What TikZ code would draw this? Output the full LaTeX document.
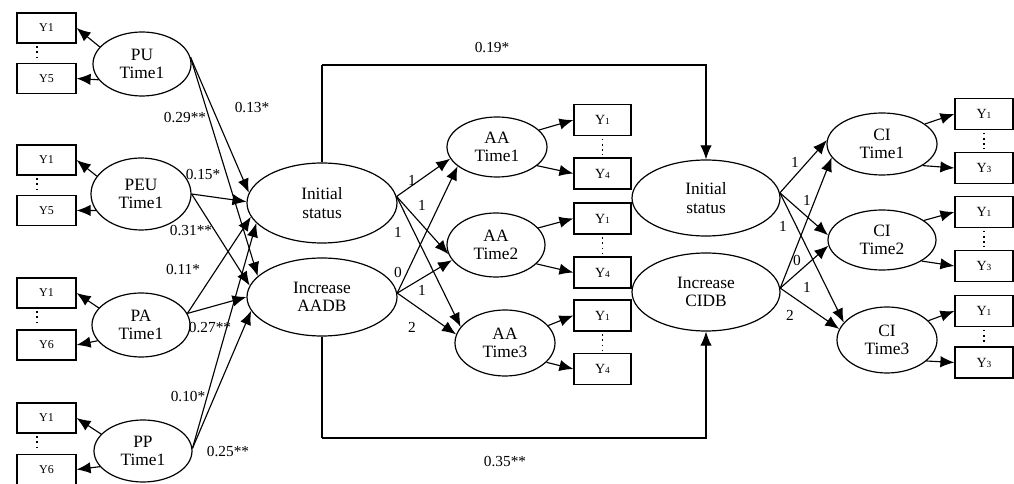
\documentclass[tikz,border=0pt]{standalone}
\usepackage{fontspec}
\setmainfont{Liberation Serif}
\usetikzlibrary{shapes.geometric,arrows.meta}
\begin{document}
\begin{tikzpicture}[x=0.75pt,y=-0.75pt,
 lat/.style={ellipse,draw,line width=0.9pt,inner sep=0pt,align=center,font=\fontsize{13}{14}\selectfont},
 obsL/.style={rectangle,draw,line width=0.9pt,minimum width=44.25pt,minimum height=22.5pt,inner sep=0pt,font=\fontsize{9}{9}\selectfont},
 obsA/.style={rectangle,draw,line width=0.9pt,minimum width=42.75pt,minimum height=23.25pt,inner sep=0pt,font=\fontsize{10.5}{10.5}\selectfont},
 obsC/.style={rectangle,draw,line width=0.9pt,minimum width=43.5pt,minimum height=23.25pt,inner sep=0pt,font=\fontsize{10.5}{10.5}\selectfont},
 arr/.style={line width=0.85pt,-{Latex[length=10.5pt,width=8.5pt]}},
 plain/.style={line width=0.85pt},
 dots/.style={line width=1.3pt,dash pattern=on 1.3pt off 2.6pt},
 coef/.style={font=\fontsize{11.5}{12}\selectfont,inner sep=0pt},
 num/.style={font=\fontsize{11.5}{12}\selectfont,inner sep=0pt},
]
\useasboundingbox (0,0) rectangle (1014,484);

% left latent variables
\node[lat,minimum width=73.5pt,minimum height=48pt] (PU) at (142,64) {PU\\Time1};
\node[lat,minimum width=75pt,minimum height=54pt] (PEU) at (141,194) {PEU\\Time1};
\node[lat,minimum width=73.5pt,minimum height=48pt] (PA) at (141,325) {PA\\Time1};
\node[lat,minimum width=73.5pt,minimum height=46.5pt] (PP) at (143,451) {PP\\Time1};

% left indicators
\node[obsL] (PU1) at (46.5,28) {Y1};
\node[obsL] (PU5) at (46.5,78.5) {Y5};
\node[obsL] (PEU1) at (46.5,160) {Y1};
\node[obsL] (PEU5) at (46.5,210.5) {Y5};
\node[obsL] (PA1) at (46.5,293) {Y1};
\node[obsL] (PA6) at (46.5,345) {Y6};
\node[obsL] (PP1) at (46.5,418) {Y1};
\node[obsL] (PP6) at (46.5,469.5) {Y6};

\foreach \a/\b in {PU1/PU5,PEU1/PEU5,PA1/PA6,PP1/PP6}
  \draw[dots] ([xshift=-7pt,yshift=-2pt]\a.south) -- ([xshift=-7pt,yshift=2pt]\b.north);

\foreach \l/\a/\b in {PU/PU1/PU5,PEU/PEU1/PEU5,PA/PA1/PA6,PP/PP1/PP6}{
  \draw[arr] (\l.158) -- (\a.east);
  \draw[arr] (\l.200) -- (\b.east);
}

% middle growth factors (AA)
\node[lat,minimum width=112.5pt,minimum height=60pt] (IS) at (322,203) {Initial\\status};
\node[lat,minimum width=112.5pt,minimum height=58.5pt] (IA) at (322,297) {Increase\\AADB};

% predictors to growth factors
\draw[arr] (PU.8) -- (IS.172);
\draw[arr] (PU.8) -- (IA.162);
\draw[arr] (PEU.east) -- (IS.179);
\draw[arr] (PEU.east) -- (IA.171);
\draw[arr] (PA.14) -- (IS.191);
\draw[arr] (PA.14) -- (IA.180);
\draw[arr] (PP.3) -- (IS.197);
\draw[arr] (PP.3) -- (IA.191);

\node[coef] at (252,108) {0.13*};
\node[coef] at (185,118) {0.29**};
\node[coef] at (203,175) {0.15*};
\node[coef] at (191,231) {0.31**};
\node[coef] at (183,270) {0.11*};
\node[coef] at (210,328) {0.27**};
\node[coef] at (188,397) {0.10*};
\node[coef] at (228,452) {0.25**};

% AA occasions
\node[lat,minimum width=75pt,minimum height=45pt] (AA1) at (497,147) {AA\\Time1};
\node[lat,minimum width=73.5pt,minimum height=48pt] (AA2) at (496,245) {AA\\Time2};
\node[lat,minimum width=75pt,minimum height=49.5pt] (AA3) at (505,343) {AA\\Time3};

\node[obsA] (A11) at (602.5,120) {Y{\scriptsize 1}};
\node[obsA] (A14) at (602.5,173.5) {Y{\scriptsize 4}};
\node[obsA] (A21) at (602.5,218.5) {Y{\scriptsize 1}};
\node[obsA] (A24) at (602.5,272.5) {Y{\scriptsize 4}};
\node[obsA] (A31) at (602.5,315.5) {Y{\scriptsize 1}};
\node[obsA] (A34) at (602.5,369) {Y{\scriptsize 4}};

\foreach \a/\b in {A11/A14,A21/A24,A31/A34}
  \draw[dots] ([yshift=-2pt]\a.south) -- ([yshift=2pt]\b.north);
\foreach \l/\a/\b in {AA1/A11/A14,AA2/A21/A24,AA3/A31/A34}{
  \draw[arr] (\l.22) -- (\a.west);
  \draw[arr] (\l.-25) -- (\b.west);
}

\draw[arr] (IS.5) -- (AA1.194);
\draw[arr] (IS.5) -- (AA2.191);
\draw[arr] (IS.5) -- (AA3.160);
\draw[arr] (IA.3) -- (AA1.206);
\draw[arr] (IA.3) -- (AA2.199);
\draw[arr] (IA.3) -- (AA3.170);

\node[num] at (412,180) {1};
\node[num] at (422,205) {1};
\node[num] at (398,232) {1};
\node[num] at (398,272) {0};
\node[num] at (422,290) {1};
\node[num] at (412,327) {2};

% right growth factors (CI)
\node[lat,minimum width=111pt,minimum height=57pt] (IR) at (706,198) {Initial\\status};
\node[lat,minimum width=111pt,minimum height=58.5pt] (ICR) at (706,292) {Increase\\CIDB};

\coordinate (topL) at (322,65);
\coordinate (botL) at (322,438);
\draw[plain] (IS.north) -- (topL);
\draw[arr] (topL) -| (IR.north);
\draw[plain] (IA.south) -- (botL);
\draw[arr] (botL) -| (ICR.south);
\node[coef] at (492,48) {0.19*};
\node[coef] at (505,462) {0.35**};

\node[lat,minimum width=82.5pt,minimum height=46.5pt] (CI1) at (882,144) {CI\\Time1};
\node[lat,minimum width=81pt,minimum height=45pt] (CI2) at (882,240) {CI\\Time2};
\node[lat,minimum width=75pt,minimum height=49.5pt] (CI3) at (887,340) {CI\\Time3};

\node[obsC] (C11) at (984,114) {Y{\scriptsize 1}};
\node[obsC] (C13) at (984,168) {Y{\scriptsize 3}};
\node[obsC] (C21) at (984,212) {Y{\scriptsize 1}};
\node[obsC] (C23) at (984,266) {Y{\scriptsize 3}};
\node[obsC] (C31) at (984,311) {Y{\scriptsize 1}};
\node[obsC] (C33) at (984,362.5) {Y{\scriptsize 3}};

\foreach \a/\b in {C11/C13,C21/C23,C31/C33}
  \draw[dots] ([yshift=-2pt]\a.south) -- ([yshift=2pt]\b.north);
\foreach \l/\a/\b in {CI1/C11/C13,CI2/C21/C23,CI3/C31/C33}{
  \draw[arr] (\l.25) -- (\a.west);
  \draw[arr] (\l.-28) -- (\b.west);
}

\draw[arr] (IR.4) -- (CI1.176);
\draw[arr] (IR.4) -- (CI2.175);
\draw[arr] (IR.4) -- (CI3.158);
\draw[arr] (ICR.3) -- (CI1.195);
\draw[arr] (ICR.3) -- (CI2.186);
\draw[arr] (ICR.3) -- (CI3.167);

\node[num] at (795,162) {1};
\node[num] at (807,200) {1};
\node[num] at (783,226) {1};
\node[num] at (797,260) {0};
\node[num] at (807,287) {1};
\node[num] at (790,315) {2};
\end{tikzpicture}
\end{document}
